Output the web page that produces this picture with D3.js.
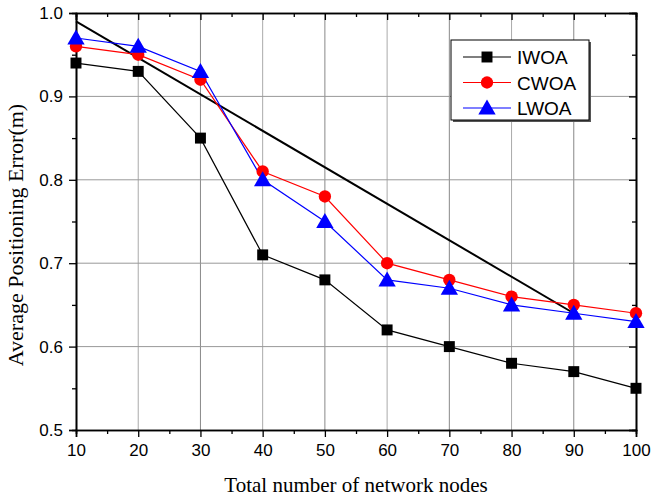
<!DOCTYPE html>
<html><head><meta charset="utf-8">
<script src="https://cdn.jsdelivr.net/npm/d3@7"></script>
<style>body{margin:0;background:#fff}</style>
</head><body>
<svg id="c" width="651" height="497"></svg>
<script>
const nodes = [10, 20, 30, 40, 50, 60, 70, 80, 90, 100];
const iwoa = [0.94, 0.93, 0.85, 0.71, 0.68, 0.62, 0.60, 0.58, 0.57, 0.55];
const cwoa = [0.96, 0.95, 0.92, 0.81, 0.78, 0.70, 0.68, 0.66, 0.65, 0.64];
const lwoa = [0.97, 0.96, 0.93, 0.80, 0.75, 0.68, 0.67, 0.65, 0.64, 0.63];
const trendX = [10, 90];
const trendY = [0.99, 0.64];
const xTicks = [10, 20, 30, 40, 50, 60, 70, 80, 90, 100];
const yTicks = [0.5, 0.6, 0.7, 0.8, 0.9, 1.0];
const seriesNames = ["IWOA", "CWOA", "LWOA"];
const seriesColors = ["#000000", "#ff0000", "#0000ff"];

const svg = d3.select("#c");
const L = 76, R = 636, T = 13, B = 430;
const x = d3.scaleLinear().domain([10, 100]).range([L, R]);
const y = d3.scaleLinear().domain([0.5, 1.0]).range([B, T]);

// grid
const g = svg.append("g");
g.selectAll(".vg").data(xTicks.slice(1, -1)).join("line")
  .attr("x1", d => x(d)).attr("x2", d => x(d)).attr("y1", T).attr("y2", B)
  .attr("stroke", (d, i) => i % 2 ? "#888" : "#aaa").attr("stroke-width", 1);
g.selectAll(".hg").data(yTicks.slice(1, -1)).join("line")
  .attr("y1", d => y(d)).attr("y2", d => y(d)).attr("x1", L).attr("x2", R)
  .attr("stroke", "#999").attr("stroke-width", 1);

// axes
const minorX = d3.range(15, 100, 10);
const minorY = d3.range(0.55, 1.0, 0.1);
const fontTick = "'Liberation Sans', Arial, sans-serif";
svg.append("g").attr("transform", `translate(0,${B})`)
  .call(d3.axisBottom(x).tickValues(xTicks).tickFormat(d3.format("d")).tickSize(7).tickPadding(7));
svg.append("g").attr("transform", `translate(0,${B})`)
  .call(d3.axisBottom(x).tickValues(minorX).tickFormat("").tickSize(4));
svg.append("g").attr("transform", `translate(${L},0)`)
  .call(d3.axisLeft(y).tickValues(yTicks).tickFormat(d3.format(".1f")).tickSize(7).tickPadding(6));
svg.append("g").attr("transform", `translate(${L},0)`)
  .call(d3.axisLeft(y).tickValues(minorY).tickFormat("").tickSize(4));
svg.append("g").attr("transform", `translate(0,${T})`)
  .call(d3.axisTop(x).tickValues(xTicks).tickFormat("").tickSize(-7));
svg.append("g").attr("transform", `translate(0,${T})`)
  .call(d3.axisTop(x).tickValues(minorX).tickFormat("").tickSize(-4));
svg.append("g").attr("transform", `translate(${R},0)`)
  .call(d3.axisRight(y).tickValues(yTicks).tickFormat("").tickSize(-7));
svg.append("g").attr("transform", `translate(${R},0)`)
  .call(d3.axisRight(y).tickValues(minorY).tickFormat("").tickSize(-4));
svg.selectAll(".domain").attr("stroke", "#000").attr("stroke-width", 1.6);
svg.selectAll(".tick line").attr("stroke", "#000").attr("stroke-width", 1.3);
svg.selectAll(".tick text").attr("font-family", fontTick).attr("font-size", 17).attr("fill", "#000");

// trend line
svg.append("line")
  .attr("x1", x(trendX[0])).attr("y1", y(trendY[0]))
  .attr("x2", x(trendX[1])).attr("y2", y(trendY[1]))
  .attr("stroke", "#000").attr("stroke-width", 2);

// series
const data = [iwoa, cwoa, lwoa];
const line = d3.line().x((d, i) => x(nodes[i])).y(d => y(d));
const symbols = [d3.symbolSquare, d3.symbolCircle, d3.symbolTriangle];
const sizes = [120, 120, 130];
data.forEach((vals, k) => {
  svg.append("path").datum(vals).attr("d", line)
    .attr("fill", "none").attr("stroke", seriesColors[k]).attr("stroke-width", 1.2);
});
data.forEach((vals, k) => {
  svg.append("g").selectAll("path").data(vals).join("path")
    .attr("transform", (d, i) => `translate(${x(nodes[i])},${y(d) + (k === 2 ? 1.5 : 0)})`)
    .attr("d", d3.symbol().type(symbols[k]).size(sizes[k]))
    .attr("fill", seriesColors[k]);
});

// legend
const lg = svg.append("g");
lg.append("rect").attr("x", 453).attr("y", 42).attr("width", 138).attr("height", 80).attr("fill", "#555");
lg.append("rect").attr("x", 451).attr("y", 40).attr("width", 138).attr("height", 80)
  .attr("fill", "#fff").attr("stroke", "#000").attr("stroke-width", 1);
seriesNames.forEach((n, k) => {
  const yy = 57 + k * 25.5;
  lg.append("line").attr("x1", 463).attr("x2", 511).attr("y1", yy).attr("y2", yy)
    .attr("stroke", seriesColors[k]).attr("stroke-width", 1.2);
  lg.append("path").attr("transform", `translate(487,${yy + (k === 2 ? 1.5 : 0)})`)
    .attr("d", d3.symbol().type(symbols[k]).size(sizes[k])).attr("fill", seriesColors[k]);
  lg.append("text").attr("x", 517).attr("y", yy + 7).text(n)
    .attr("font-family", fontTick).attr("font-size", 19).attr("fill", "#000");
});

// titles
const serif = "'Liberation Serif', 'Times New Roman', serif";
svg.append("text").attr("x", 356).attr("y", 492).attr("text-anchor", "middle")
  .attr("font-family", serif).attr("font-size", 21).text("Total number of network nodes");
svg.append("text").attr("transform", `translate(23,235) rotate(-90)`)
  .attr("text-anchor", "middle").attr("font-family", serif).attr("font-size", 22)
  .text("Average Positioning Error(m)");
</script>
</body></html>
